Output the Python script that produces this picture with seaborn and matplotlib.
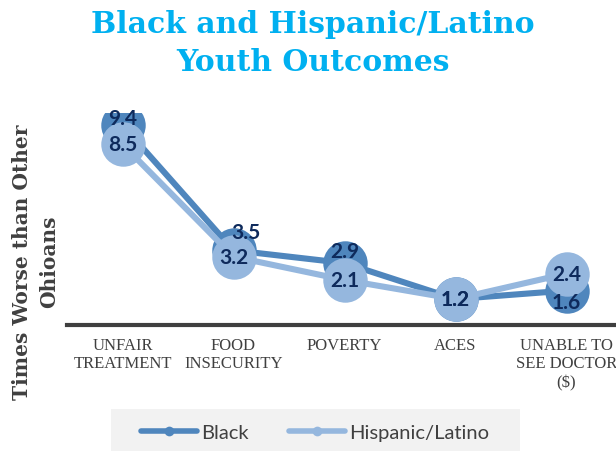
import matplotlib
matplotlib.use("Agg")
import matplotlib.pyplot as plt
from matplotlib.lines import Line2D
from matplotlib.patches import Rectangle
import seaborn as sns
import pandas as pd

# Outcome categories and ratios (times worse than other Ohioans)
categories = ["UNFAIR\nTREATMENT", "FOOD\nINSECURITY", "POVERTY", "ACES", "UNABLE TO\nSEE DOCTOR\n($)"]
black_values = [9.4, 3.5, 2.9, 1.2, 1.6]
hispanic_values = [8.5, 3.2, 2.1, 1.2, 2.4]
series_names = ["Black", "Hispanic/Latino"]

# Label nudges in points (dx, dy) so overlapping value labels stay readable
black_label_offsets = [(0, 5), (9, 13), (0, 9), (0, 0), (0, -8)]
hispanic_label_offsets = [(0, 0), (0, 0), (0, 0), (0, 0), (0, 0)]

colors = {"Black": "#4F86BD", "Hispanic/Latino": "#95B7DE"}
label_color = "#0E2A5C"
text_gray = "#404040"

df = pd.DataFrame({
    "category": categories * 2,
    "value": black_values + hispanic_values,
    "group": [series_names[0]] * len(categories) + [series_names[1]] * len(categories),
})

sns.set_theme(style="white")
plt.rcParams["font.family"] = ["DejaVu Sans"]

fig = plt.figure(figsize=(6.16, 4.52), dpi=100)
fig.patch.set_facecolor("white")
ax = fig.add_axes([67 / 616, (452 - 325.5) / 452, 555 / 616, 212 / 452])

sns.pointplot(
    data=df, x="category", y="value", hue="group", order=categories,
    hue_order=series_names, palette=colors, errorbar=None,
    markers="o", markersize=32, linewidth=4.4, dodge=False, ax=ax,
    legend=False,
)
# remove marker edges
for coll in ax.collections:
    coll.set_edgecolor("none")
for line in ax.lines:
    line.set_markeredgewidth(0)
    line.set_solid_capstyle("round")

ax.set_xlim(-0.5, 4.5)
ax.set_ylim(0, 10)
ax.set_yticks([])
ax.set_xlabel("")
ax.set_ylabel("")
for side in ["top", "right", "left"]:
    ax.spines[side].set_visible(False)
ax.spines["bottom"].set_color("#3F3F3F")
ax.spines["bottom"].set_linewidth(3)
ax.spines["bottom"].set_zorder(0.5)
ax.tick_params(axis="x", length=0, pad=9, colors=text_gray)
for lab in ax.get_xticklabels():
    lab.set_fontfamily("Liberation Serif")
    lab.set_fontsize(12)
    lab.set_linespacing(1.2)
    lab.set_verticalalignment("top")

# value labels
for vals, offs in [(black_values, black_label_offsets), (hispanic_values, hispanic_label_offsets)]:
    for i, (v, (dx, dy)) in enumerate(zip(vals, offs)):
        ax.annotate(f"{v:.1f}", (i, v), xytext=(dx, dy), textcoords="offset points",
                    ha="center", va="center", fontsize=15, fontweight="bold",
                    color=label_color, fontfamily="Lato", zorder=10)

# title
fig.text(0.508, 0.978, "Black and Hispanic/Latino\nYouth Outcomes", ha="center", va="top",
         fontsize=21.5, fontweight="heavy", fontfamily="DejaVu Serif", color="#00B0F0",
         linespacing=1.4)

# y axis title
fig.text(36 / 616, 1 - 262 / 452, "Times Worse than Other\nOhioans", rotation=90,
         ha="center", va="center", fontsize=14.5, fontweight="bold",
         fontfamily="DejaVu Serif", color=text_gray, linespacing=1.45)

# legend band
fig.patches.append(Rectangle((111 / 616, 0), (520 - 111) / 616, 42 / 452,
                             transform=fig.transFigure, facecolor="#F2F2F2",
                             edgecolor="none", zorder=0))
handles = [Line2D([0], [0], color=colors[n], lw=4.0, marker="o", markersize=7,
                  markeredgewidth=0, solid_capstyle="round") for n in series_names]
leg = fig.legend(handles, series_names, loc="center", bbox_to_anchor=(315 / 616, 19 / 452),
                 ncol=2, frameon=False, handlelength=2.8, handletextpad=0.2,
                 columnspacing=2.0, prop={"family": "Lato", "size": 14.5})
for t in leg.get_texts():
    t.set_color(text_gray)

fig.savefig("out.png", dpi=100, facecolor="white")
